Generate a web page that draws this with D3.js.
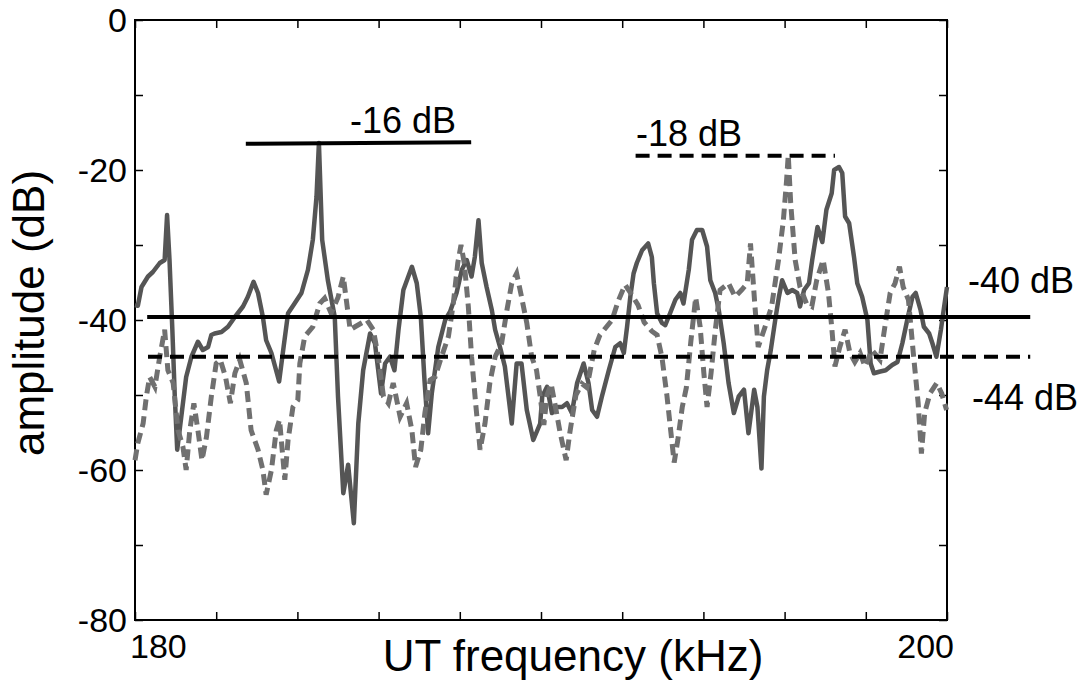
<!DOCTYPE html>
<html>
<head>
<meta charset="utf-8">
<script src="https://cdn.jsdelivr.net/npm/d3@7"></script>
<style>
body { margin: 0; background: #fff; }
svg { font-family: Arial, "Liberation Sans", sans-serif; }
</style>
</head>
<body>
<div id="chart-area"></div>
<script>
// tick values
var xMinorTicks = d3.range(180, 201, 2);
var xTickLabels = [180, 200];
var yTickLabels = [0, -20, -40, -60, -80];
var yMinorTicks = d3.range(-80, 1, 10);

// [kHz, dB] solid trace
var solidSeries = [
    [180.00,-38],[180.07,-38.1],[180.16,-35.6],[180.32,-34.2],[180.44,-33.6],[180.61,-32.4],
    [180.73,-32],[180.79,-26],[180.85,-32],[180.92,-41.3],[180.98,-50.2],[181.04,-57.3],
    [181.14,-52.9],[181.26,-47.6],[181.39,-44.9],[181.55,-42.9],[181.67,-44],[181.80,-43.6],
    [181.88,-42],[181.96,-41.8],[182.13,-41.6],[182.29,-40.9],[182.46,-39.6],[182.66,-38.2],
    [182.78,-36.9],[182.92,-34.9],[183.03,-36.4],[183.15,-39.6],[183.23,-42.7],[183.36,-44.4],
    [183.55,-48.2],[183.66,-43.6],[183.77,-39.1],[183.93,-37.8],[184.10,-36.4],[184.26,-33.3],
    [184.38,-29.3],[184.47,-23.6],[184.53,-16.4],[184.61,-29.3],[184.75,-34.7],[184.92,-39.6],
    [185.00,-50.2],[185.13,-63.1],[185.25,-59.3],[185.39,-67.1],[185.50,-53.8],[185.62,-46.7],
    [185.79,-41.8],[185.91,-43.1],[186.06,-49.8],[186.16,-45.8],[186.28,-44.9],[186.39,-46.7],
    [186.49,-41.3],[186.61,-36],[186.82,-32.9],[186.94,-35.1],[187.04,-39.6],[187.13,-48],
    [187.22,-55.1],[187.31,-49.8],[187.47,-43.6],[187.64,-40],[187.76,-38.9],[187.92,-36.4],
    [188.05,-33.3],[188.17,-32],[188.29,-34.2],[188.37,-31.6],[188.46,-26.7],[188.54,-32.4],
    [188.66,-35.6],[188.79,-38.7],[188.87,-41.3],[188.99,-43.6],[189.11,-46.2],[189.28,-53.8],
    [189.40,-45.8],[189.52,-45.8],[189.65,-52],[189.81,-56],[189.98,-53.8],[190.03,-50.2],
    [190.15,-48.9],[190.27,-52.4],[190.39,-51.6],[190.52,-51.6],[190.64,-51.1],[190.76,-52.4],
    [190.89,-48.4],[191.05,-45.8],[191.17,-48.4],[191.26,-52],[191.38,-52.9],[191.50,-50.2],
    [191.67,-46.7],[191.83,-43.6],[191.95,-43.1],[192.04,-44.4],[192.12,-40.9],[192.20,-36.9],
    [192.28,-33.8],[192.36,-32.4],[192.49,-30.7],[192.64,-29.8],[192.73,-31.6],[192.78,-35.1],
    [192.86,-39.1],[192.98,-40.4],[193.06,-40.7],[193.18,-39.1],[193.31,-37.3],[193.43,-36.4],
    [193.51,-37.8],[193.64,-33.3],[193.72,-29.3],[193.84,-28],[193.97,-28],[194.09,-30.2],
    [194.17,-34.7],[194.29,-36.4],[194.38,-38.7],[194.50,-43.1],[194.62,-48.4],[194.75,-52.4],
    [194.87,-50.2],[195.00,-49.3],[195.11,-55.1],[195.25,-49.3],[195.33,-51.6],[195.43,-59.8],
    [195.49,-50.2],[195.57,-46.7],[195.66,-44],[195.78,-39.6],[195.86,-36.9],[195.94,-34.7],
    [196.07,-36.4],[196.19,-36],[196.31,-36.4],[196.38,-38.2],[196.48,-36],[196.60,-35.1],
    [196.68,-32],[196.81,-27.6],[196.93,-29.6],[197.03,-25.3],[197.16,-23.1],[197.22,-20],
    [197.34,-19.6],[197.42,-20.4],[197.49,-26.2],[197.59,-27.1],[197.71,-31.6],[197.79,-35.1],
    [197.91,-36.9],[198.04,-40],[198.12,-45.8],[198.20,-47.1],[198.33,-46.9],[198.49,-46.7],
    [198.65,-46],[198.78,-45.6],[198.90,-43.1],[199.02,-40],[199.15,-36.9],[199.23,-36.4],
    [199.35,-38.7],[199.43,-40.9],[199.56,-41.8],[199.64,-43.1],[199.74,-44.9],[199.85,-41.3],
    [199.93,-38.2],[200.00,-35.6]
];

// [kHz, dB] dashed trace
var dashedSeries = [
    [180.00,-58.7],[180.07,-56.4],[180.20,-53.8],[180.28,-50.2],[180.36,-47.6],[180.49,-48.9],
    [180.61,-44.9],[180.73,-41.3],[180.81,-46.7],[180.94,-48.4],[181.06,-54.7],[181.18,-56.9],
    [181.26,-60],[181.35,-54.7],[181.45,-51.1],[181.55,-54.7],[181.65,-58.7],[181.76,-55.6],
    [181.88,-50.2],[182.00,-45.8],[182.10,-45.3],[182.23,-47.6],[182.35,-51.1],[182.46,-47.1],
    [182.58,-45.3],[182.74,-48.4],[182.86,-54.7],[183.03,-57.3],[183.15,-60],[183.23,-63.3],
    [183.36,-60],[183.48,-54.7],[183.56,-53.3],[183.69,-61.3],[183.77,-56],[183.89,-51.6],
    [184.01,-50.7],[184.06,-45.8],[184.18,-42.2],[184.38,-40.9],[184.55,-37.8],[184.67,-37.1],
    [184.83,-39.1],[185.00,-37],[185.13,-34.2],[185.30,-41.3],[185.42,-40.9],[185.58,-40.4],
    [185.71,-40],[185.87,-41.3],[185.99,-44.9],[186.12,-50.2],[186.24,-51.1],[186.36,-48.4],
    [186.53,-52.9],[186.69,-51.1],[186.82,-54.7],[186.91,-59.6],[187.04,-57.3],[187.14,-52.4],
    [187.27,-48],[187.39,-47.6],[187.55,-44.9],[187.72,-42.2],[187.84,-37.8],[187.95,-32.4],
    [188.03,-30],[188.11,-32.4],[188.21,-38.2],[188.29,-44.9],[188.39,-51.1],[188.50,-57.3],
    [188.62,-53.8],[188.74,-48.4],[188.87,-44.9],[189.03,-43.1],[189.16,-38.7],[189.28,-35.1],
    [189.40,-33.8],[189.52,-36.9],[189.65,-40.4],[189.77,-44.9],[189.89,-46.7],[189.98,-50.2],
    [190.07,-54],[190.15,-50],[190.25,-48.5],[190.37,-52],[190.47,-55],[190.62,-58.7],
    [190.71,-55],[190.86,-50],[191.01,-48.5],[191.13,-49],[191.31,-44],[191.45,-42],
    [191.60,-41],[191.75,-40],[191.90,-37.5],[192.07,-35.3],[192.22,-36.5],[192.39,-38],
    [192.54,-40.3],[192.73,-41.5],[192.86,-42],[192.98,-45],[193.10,-50],[193.20,-55],
    [193.28,-59],[193.37,-56],[193.48,-51.6],[193.58,-49],[193.69,-42.9],[193.81,-37],
    [193.92,-40.9],[194.01,-47],[194.09,-51.6],[194.19,-47],[194.29,-41.5],[194.41,-36],
    [194.62,-35.1],[194.78,-36.9],[194.94,-36],[195.08,-35.1],[195.16,-29.8],[195.27,-38.2],
    [195.35,-43.6],[195.52,-40.9],[195.68,-38.2],[195.85,-32],[195.97,-26.7],[196.05,-21.3],
    [196.09,-18],[196.15,-24.4],[196.26,-32],[196.38,-35.6],[196.54,-37.8],[196.67,-38.2],
    [196.79,-34.7],[196.95,-32],[197.08,-36.4],[197.16,-40.9],[197.24,-46.2],[197.36,-43.6],
    [197.49,-41.3],[197.61,-44.4],[197.73,-45.6],[197.86,-44.4],[197.98,-46.2],[198.15,-44],
    [198.35,-45.3],[198.47,-40.9],[198.60,-36.4],[198.72,-35.1],[198.83,-32.9],[198.92,-35.6],
    [199.05,-37.3],[199.17,-44.4],[199.29,-51.1],[199.37,-57.8],[199.45,-52.4],[199.58,-49.8],
    [199.75,-48.4],[199.87,-49.8],[199.99,-52]
];

// reference levels: [kHz, dB] endpoints
var peakLine16 = [[182.73,-16.5],[188.28,-16.3]];
var peakLine18 = [[192.33,-18.1],[197.24,-18.1]];
var floorLine40 = [[180.30,-39.6],[202.05,-39.6]];
var floorLine44 = [[180.32,-44.9],[202.05,-44.9]];
var refLabels = ["-16 dB", "-18 dB", "-40 dB", "-44 dB"];

var margin = { left: 135, right: 140, top: 20, bottom: 64 };
var width = 812;
var height = 600;

var svg = d3.select("#chart-area").append("svg")
    .attr("width", 1087)
    .attr("height", 684);

var g = svg.append("g")
    .attr("transform", "translate(" + margin.left + ", " + margin.top + ")");

var x = d3.scaleLinear().domain([180, 200]).range([0, width]);
var y = d3.scaleLinear().domain([-80, 0]).range([height, 0]);

var line = d3.line()
    .x((d) => x(d[0]))
    .y((d) => y(d[1]));

// inward ticks on all four sides
g.append("g").attr("transform", "translate(0," + height + ")")
    .call(d3.axisBottom(x).tickValues(xMinorTicks).tickSize(-8).tickFormat(""));
g.append("g")
    .call(d3.axisTop(x).tickValues(xMinorTicks).tickSize(-8).tickFormat(""));
g.append("g")
    .call(d3.axisLeft(y).tickValues(yMinorTicks).tickSize(-8).tickFormat(""));
g.append("g").attr("transform", "translate(" + width + ",0)")
    .call(d3.axisRight(y).tickValues(yMinorTicks).tickSize(-8).tickFormat(""));
g.selectAll(".domain").remove();
g.selectAll(".tick line").attr("stroke", "#000").attr("stroke-width", 1.5);

g.append("rect")
    .attr("width", width)
    .attr("height", height)
    .attr("fill", "none")
    .attr("stroke", "#000")
    .attr("stroke-width", 2);

// tick labels
g.selectAll(".ylab").data(yTickLabels).enter().append("text")
    .attr("class", "ylab")
    .attr("x", -8)
    .attr("y", (d) => y(d))
    .attr("dy", "0.36em")
    .attr("text-anchor", "end")
    .attr("font-size", "34px")
    .text((d) => d);

g.selectAll(".xlab").data(xTickLabels).enter().append("text")
    .attr("class", "xlab")
    .attr("x", (d, i) => i == 0 ? x(d) - 5 : x(d) + 7)
    .attr("y", height + 38)
    .attr("text-anchor", (d, i) => i == 0 ? "start" : "end")
    .attr("font-size", "34px")
    .text((d) => d);

// axis titles
g.append("text")
    .attr("x", 438)
    .attr("y", height + 51)
    .attr("text-anchor", "middle")
    .attr("font-size", "44px")
    .text("UT frequency (kHz)");

g.append("text")
    .attr("transform", "rotate(-90)")
    .attr("x", -293)
    .attr("y", -91)
    .attr("text-anchor", "middle")
    .attr("font-size", "44px")
    .text("amplitude (dB)");

// traces
g.append("path").datum(solidSeries)
    .attr("d", line)
    .attr("fill", "none")
    .attr("stroke", "#555")
    .attr("stroke-width", 4.5)
    .attr("stroke-linejoin", "round");

g.append("path").datum(dashedSeries)
    .attr("d", line)
    .attr("fill", "none")
    .attr("stroke", "#707070")
    .attr("stroke-width", 5)
    .attr("stroke-dasharray", "11,6");

// reference lines
var refs = [
    { pts: peakLine16, dash: null },
    { pts: peakLine18, dash: "14,8" },
    { pts: floorLine40, dash: null },
    { pts: floorLine44, dash: "14,8" }
];
refs.forEach((r) => {
    g.append("path").datum(r.pts)
        .attr("d", line)
        .attr("fill", "none")
        .attr("stroke", "#000")
        .attr("stroke-width", 4)
        .attr("stroke-dasharray", r.dash);
});

// reference labels
var labelPos = [[215, 113], [501, 126], [833, 273], [837, 390]];
refLabels.forEach((t, i) => {
    g.append("text")
        .attr("x", labelPos[i][0])
        .attr("y", labelPos[i][1])
        .attr("font-size", "36px")
        .text(t);
});
</script>
</body>
</html>
